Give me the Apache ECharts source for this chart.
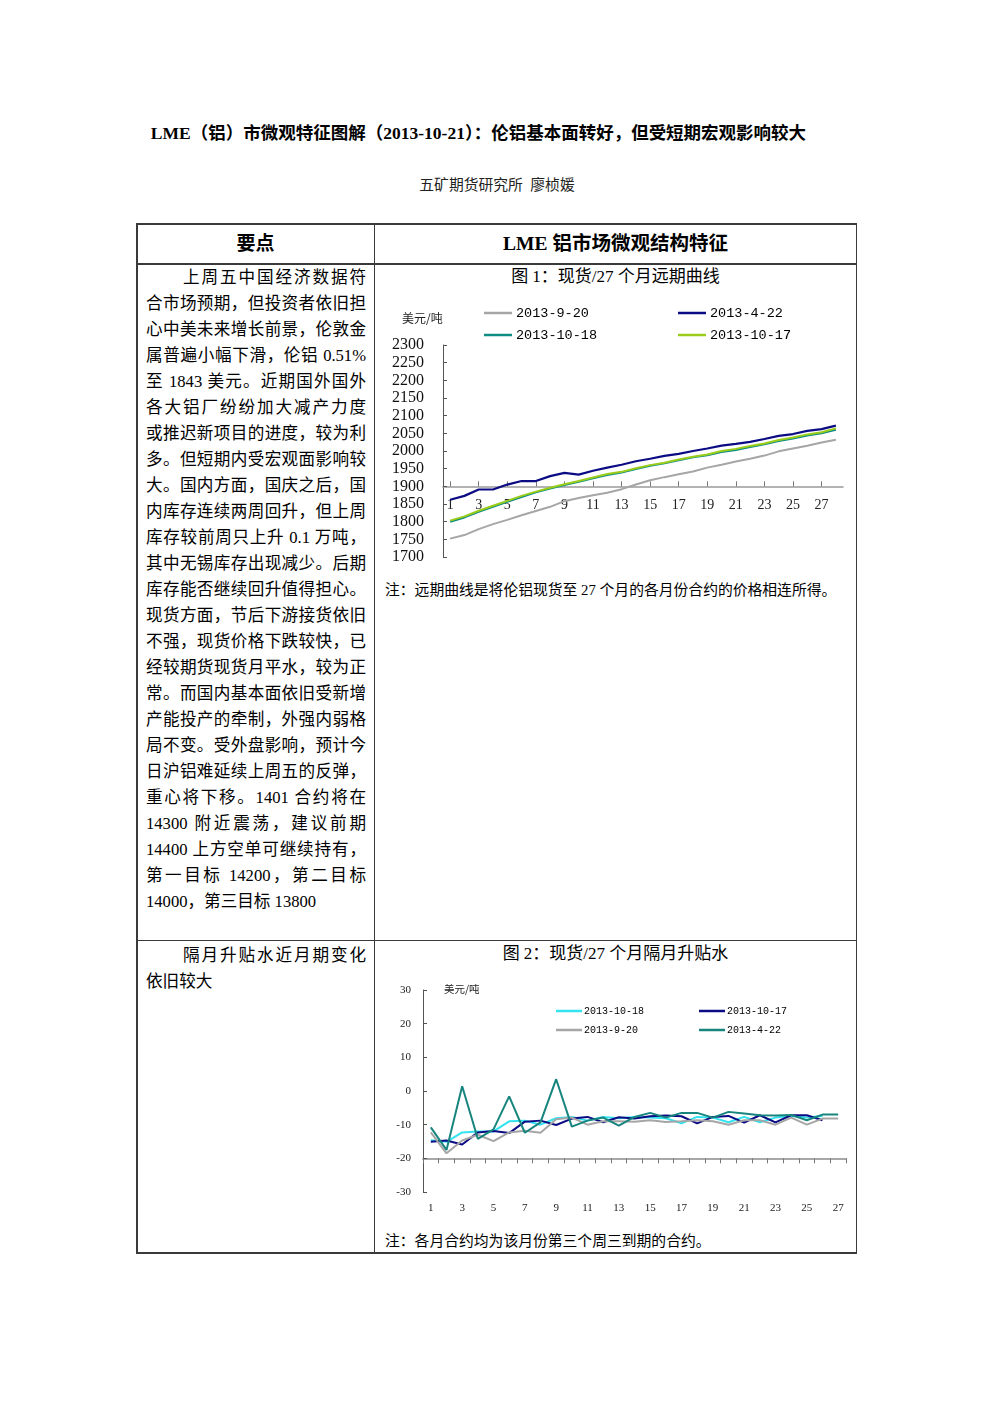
<!DOCTYPE html>
<html><head><meta charset="utf-8">
<script src="https://cdn.jsdelivr.net/npm/echarts@6/dist/echarts.min.js"></script>
<style>
html,body{margin:0;padding:0;background:#fff;}
body{width:992px;height:1403px;position:relative;overflow:hidden;font-family:"Liberation Serif","Noto Sans CJK SC",serif;color:#000;}
.abs{position:absolute;white-space:nowrap;}
.line{position:absolute;left:146px;width:220px;font-size:16.6px;height:26px;line-height:26px;text-align:justify;text-align-last:justify;white-space:normal;overflow:visible;}
.bd{position:absolute;background:#3a3a3a;}
</style></head><body>
<div class="abs" style="left:0;width:957px;top:121px;text-align:center;font-size:17.5px;font-weight:bold;line-height:24px;">LME（铝）市微观特征图解（2013-10-21）：伦铝基本面转好，但受短期宏观影响较大</div>
<div class="abs" style="left:0;width:994px;top:174px;text-align:center;font-size:14.8px;line-height:22px;color:#222;">五矿期货研究所&nbsp;&nbsp;廖桢媛</div>

<!-- table borders -->
<div class="bd" style="left:136px;top:223px;width:721px;height:1.5px;"></div>
<div class="bd" style="left:136px;top:263px;width:721px;height:1.5px;"></div>
<div class="bd" style="left:136px;top:939.5px;width:721px;height:1.5px;"></div>
<div class="bd" style="left:136px;top:1252px;width:721px;height:1.5px;"></div>
<div class="bd" style="left:136px;top:223px;width:1.5px;height:1030px;"></div>
<div class="bd" style="left:855.5px;top:223px;width:1.5px;height:1030px;"></div>
<div class="bd" style="left:373.5px;top:223px;width:1.5px;height:1030px;"></div>

<div class="abs" style="left:137px;width:237px;top:231px;text-align:center;font-size:19px;font-weight:bold;line-height:26px;">要点</div>
<div class="abs" style="left:375px;width:481px;top:231px;text-align:center;font-size:19.5px;font-weight:bold;line-height:26px;">LME 铝市场微观结构特征</div>

<div id="leftText"></div>

<div class="abs" style="left:375px;width:481px;top:265px;text-align:center;font-size:17px;line-height:24px;">图 1：现货/27 个月远期曲线</div>
<div class="abs" style="left:385px;top:579px;font-size:14.8px;line-height:22px;">注：远期曲线是将伦铝现货至 27 个月的各月份合约的价格相连所得。</div>

<div class="abs" style="left:375px;width:481px;top:942px;text-align:center;font-size:17px;line-height:24px;">图 2：现货/27 个月隔月升贴水</div>
<div class="abs" style="left:385px;top:1230px;font-size:14.8px;line-height:22px;">注：各月合约均为该月份第三个周三到期的合约。</div>

<div id="c1" style="position:absolute;left:376px;top:290px;width:478px;height:290px;"></div>
<div id="c2" style="position:absolute;left:376px;top:975px;width:478px;height:250px;"></div>

<script>
// ---------- text of the left column ----------
const row1Lines = [
  "\u3000\u3000上周五中国经济数据符",
  "合市场预期，但投资者依旧担",
  "心中美未来增长前景，伦敦金",
  "属普遍小幅下滑，伦铝 0.51%",
  "至 1843 美元。近期国外国外",
  "各大铝厂纷纷加大减产力度",
  "或推迟新项目的进度，较为利",
  "多。但短期内受宏观面影响较",
  "大。国内方面，国庆之后，国",
  "内库存连续两周回升，但上周",
  "库存较前周只上升 0.1 万吨，",
  "其中无锡库存出现减少。后期",
  "库存能否继续回升值得担心。",
  "现货方面，节后下游接货依旧",
  "不强，现货价格下跌较快，已",
  "经较期货现货月平水，较为正",
  "常。而国内基本面依旧受新增",
  "产能投产的牵制，外强内弱格",
  "局不变。受外盘影响，预计今",
  "日沪铝难延续上周五的反弹，",
  "重心将下移。1401 合约将在",
  "14300 附近震荡，建议前期",
  "14400 上方空单可继续持有，",
  "第一目标 14200，第二目标",
  "14000，第三目标 13800"
];
const row2Lines = ["\u3000\u3000隔月升贴水近月期变化", "依旧较大"];

(function(){
  const host = document.getElementById('leftText');
  function put(lines, top0){
    lines.forEach((t,i)=>{
      const d=document.createElement('div');
      d.className='line';
      d.style.top=(top0+i*26)+'px';
      d.textContent=t;
      if(i===lines.length-1){ d.style.textAlignLast='left'; }
      host.appendChild(d);
    });
  }
  put(row1Lines, 265);
  put(row2Lines, 943);
})();

// ---------- chart 1 data ----------
const months1 = ["1","2","3","4","5","6","7","8","9","10","11","12","13","14","15","16","17","18","19","20","21","22","23","24","25","26","27","28"];
const s0920 = [1752,1762,1779,1793,1805,1818,1830,1842,1858,1867,1875,1882,1892,1905,1917,1926,1934,1942,1953,1961,1970,1978,1987,1999,2007,2015,2024,2032];
const s0422 = [1862,1873,1891,1891,1905,1915,1915,1929,1938,1933,1944,1953,1961,1971,1978,1986,1992,2000,2007,2015,2020,2026,2034,2043,2048,2057,2062,2072];
const s1018 = [1800,1812,1828,1842,1856,1870,1883,1894,1904,1913,1923,1932,1939,1949,1958,1965,1974,1982,1988,1997,2003,2011,2019,2028,2035,2044,2050,2060];
const s1017 = [1803,1815,1831,1845,1859,1873,1885,1896,1906,1915,1925,1935,1941,1951,1960,1967,1976,1984,1990,2000,2006,2014,2021,2031,2038,2047,2053,2064];
const yTicks1 = {min:1700, max:2300, interval:50, cross:1900};

// ---------- chart 2 data ----------
const months2 = ["1","2","3","4","5","6","7","8","9","10","11","12","13","14","15","16","17","18","19","20","21","22","23","24","25","26","27"];
const d1018 = [-14.6,-15.1,-12.3,-12.0,-12.0,-9.0,-8.8,-10.0,-8.1,-7.7,-8.8,-7.7,-8.1,-7.7,-7.9,-8.1,-9.6,-7.7,-7.9,-9.3,-7.7,-9.3,-7.9,-7.4,-7.9,-7.4];
const d1017 = [-15.1,-14.7,-15.9,-12.3,-11.9,-12.5,-9.1,-8.8,-10.1,-8.2,-7.7,-9.3,-7.8,-8.2,-7.5,-7.3,-7.5,-9.6,-7.7,-7.4,-9.4,-7.2,-9.3,-7.2,-7.2,-8.7];
const d0920 = [-12.3,-18.5,-14.7,-13.0,-14.9,-12.3,-11.8,-12.4,-8.4,-7.9,-10.0,-9.0,-9.0,-9.1,-8.7,-9.2,-9.0,-8.7,-9.0,-10.0,-8.7,-8.7,-10.0,-7.9,-10.0,-8.2,-8.2];
const d0422 = [-10.8,-17.5,1.4,-14.2,-11.4,-1.6,-12.4,-9.3,3.5,-10.6,-8.8,-7.9,-10.3,-7.7,-6.5,-7.9,-6.5,-6.5,-7.9,-6.2,-6.7,-7.2,-7.3,-7.1,-8.7,-7.0,-7.0];
const yTicks2 = {min:-30, max:30, interval:10, cross:-20};

const serif = '"Liberation Serif","Noto Sans CJK SC",serif';
const mono = '"Liberation Mono","DejaVu Sans Mono",monospace';
const cjk = '"Noto Sans CJK SC",sans-serif';
const plain = v => String(v);

// ---------- chart 1 ----------
(function(){
  const gridH = 212;
  const offset = -gridH * (yTicks1.cross - yTicks1.min) / (yTicks1.max - yTicks1.min);
  const lg = (name, left, top) => ({
    data:[name], left:left, top:top, icon:'rect', itemWidth:28, itemHeight:2.5, padding:0,
    textStyle:{fontFamily:mono, fontSize:13.5, color:'#000', padding:[0,0,0,-1]}
  });
  const ch = echarts.init(document.getElementById('c1'), null, {renderer:'canvas'});
  ch.setOption({
    animation:false,
    color:['#A6A6A6','#0B0B84','#0E8C84','#9ACD1A'],
    legend:[lg('2013-9-20',108,16), lg('2013-4-22',302,16), lg('2013-10-18',108,38), lg('2013-10-17',302,38)],
    graphic:[{type:'text', left:26, top:22, style:{text:'美元/吨', font:'12px '+cjk, fill:'#222'}}],
    grid:{left:67, top:55, width:400, height:gridH},
    xAxis:{type:'category', data:months1, boundaryGap:true, position:'bottom', offset:offset,
      axisLine:{lineStyle:{color:'#9A9A9A', width:1.6}},
      axisTick:{show:true, inside:true, length:5, interval:1, alignWithLabel:true, lineStyle:{color:'#777'}},
      axisLabel:{interval:1, margin:12, fontFamily:serif, fontSize:14, color:'#222'},
      splitLine:{show:false}},
    yAxis:{type:'value', min:yTicks1.min, max:yTicks1.max, interval:yTicks1.interval,
      axisLine:{show:true, lineStyle:{color:'#555', width:1}},
      axisTick:{show:true, inside:true, length:4, lineStyle:{color:'#555'}},
      axisLabel:{margin:19, fontFamily:serif, fontSize:16, color:'#111', formatter:plain},
      splitLine:{show:false}},
    series:[
      {name:'2013-9-20', type:'line', data:s0920, symbol:'none', lineStyle:{width:2}},
      {name:'2013-4-22', type:'line', data:s0422, symbol:'none', lineStyle:{width:2.2}},
      {name:'2013-10-18', type:'line', data:s1018, symbol:'none', lineStyle:{width:2}},
      {name:'2013-10-17', type:'line', data:s1017, symbol:'none', lineStyle:{width:2}}
    ]
  });
})();

// ---------- chart 2 ----------
(function(){
  const gridH = 202;
  const offset = -gridH * (yTicks2.cross - yTicks2.min) / (yTicks2.max - yTicks2.min);
  const lg = (name, left, top) => ({
    data:[name], left:left, top:top, icon:'rect', itemWidth:26, itemHeight:2.5, padding:0,
    textStyle:{fontFamily:mono, fontSize:10, color:'#000', padding:[0,0,0,-3]}
  });
  const ch = echarts.init(document.getElementById('c2'), null, {renderer:'canvas'});
  ch.setOption({
    animation:false,
    color:['#33E3EF','#0B0B84','#A6A6A6','#17857E'],
    legend:[lg('2013-10-18',180,31), lg('2013-10-17',323,31), lg('2013-9-20',180,50), lg('2013-4-22',323,50)],
    graphic:[{type:'text', left:68, top:9, style:{text:'美元/吨', font:'10.5px '+cjk, fill:'#222'}}],
    grid:{left:47, top:15, width:423, height:gridH},
    xAxis:[
      {type:'category', data:months2, boundaryGap:true, position:'bottom',
        axisLine:{show:false}, axisTick:{show:false},
        axisLabel:{interval:1, margin:11, fontFamily:serif, fontSize:11, color:'#222'}},
      {type:'category', data:months2, boundaryGap:true, position:'bottom', offset:offset,
        axisLine:{lineStyle:{color:'#A8A8A8', width:2}},
        axisTick:{show:true, inside:false, length:5, interval:0, lineStyle:{color:'#777'}},
        axisLabel:{show:false}}
    ],
    yAxis:{type:'value', min:yTicks2.min, max:yTicks2.max, interval:yTicks2.interval,
      axisLine:{show:true, lineStyle:{color:'#555', width:1}},
      axisTick:{show:true, inside:true, length:4, lineStyle:{color:'#555'}},
      axisLabel:{margin:12, fontFamily:serif, fontSize:11, color:'#222', formatter:plain},
      splitLine:{show:false}},
    series:[
      {name:'2013-10-18', type:'line', xAxisIndex:0, data:d1018, symbol:'none', lineStyle:{width:2}},
      {name:'2013-10-17', type:'line', xAxisIndex:0, data:d1017, symbol:'none', lineStyle:{width:2}},
      {name:'2013-9-20', type:'line', xAxisIndex:0, data:d0920, symbol:'none', lineStyle:{width:2}},
      {name:'2013-4-22', type:'line', xAxisIndex:0, data:d0422, symbol:'none', lineStyle:{width:2}}
    ]
  });
})();
</script>
</body></html>
